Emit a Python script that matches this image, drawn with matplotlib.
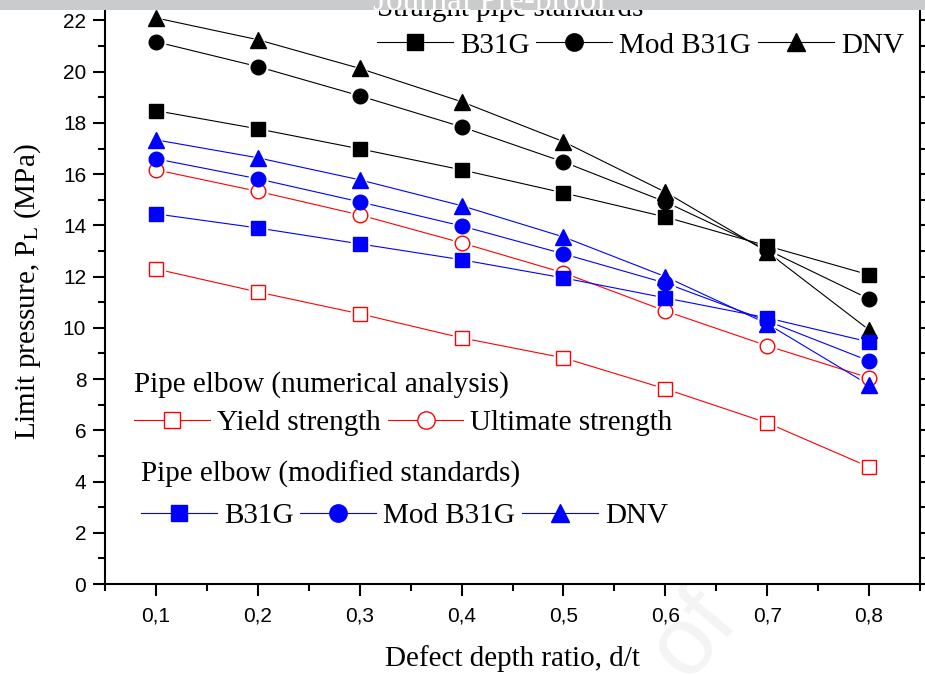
import numpy as np
import matplotlib
matplotlib.use('Agg')
import matplotlib.pyplot as plt
from matplotlib.lines import Line2D

plt.rcParams['mathtext.fontset'] = 'stix'

######################## data ##############################

depthRatio = [0.1, 0.2, 0.3, 0.4, 0.5, 0.6, 0.7, 0.8]
xtickLabels = ['0,1', '0,2', '0,3', '0,4', '0,5', '0,6', '0,7', '0,8']

# straight pipe standards
straightB31G = [18.48, 17.77, 16.99, 16.17, 15.27, 14.33, 13.2, 12.07]
straightModB31G = [21.17, 20.2, 19.06, 17.85, 16.48, 14.92, 13.05, 11.13]
straightDNV = [22.1, 21.25, 20.13, 18.83, 17.27, 15.3, 12.97, 9.92]

# pipe elbow, numerical analysis
elbowYield = [12.3, 11.4, 10.55, 9.61, 8.83, 7.62, 6.29, 4.57]
elbowUltimate = [16.17, 15.33, 14.41, 13.32, 12.15, 10.66, 9.3, 8.05]

# pipe elbow, modified standards
elbowB31G = [14.45, 13.9, 13.28, 12.66, 11.95, 11.17, 10.39, 9.45]
elbowModB31G = [16.6, 15.82, 14.92, 13.98, 12.89, 11.75, 10.27, 8.71]
elbowDNV = [17.34, 16.64, 15.78, 14.77, 13.55, 12.0, 10.16, 7.77]

######################## figure ##############################

serif = 'Liberation Serif'
sans = 'Liberation Sans'

fig = plt.figure(figsize=(9.25, 6.75), dpi=100)
ax = fig.add_axes([105 / 925, 91 / 675, 815 / 925, 584 / 675])

# (values, color, marker, size, filled)
seriesList = [
    (straightB31G, 'black', 's', 9.5, True),
    (straightModB31G, 'black', 'o', 10.5, True),
    (straightDNV, 'black', '^', 11, True),
    (elbowYield, 'red', 's', 10, False),
    (elbowUltimate, 'red', 'o', 10.5, False),
    (elbowB31G, 'blue', 's', 9.5, True),
    (elbowModB31G, 'blue', 'o', 10.5, True),
    (elbowDNV, 'blue', '^', 11, True),
]

lw = 0.8
# lines first
for vals, c, m, s, f in seriesList:
    ax.plot(depthRatio, vals, '-', color=c, lw=lw, zorder=2)
# white halo so the lines stop short of the symbols
for vals, c, m, s, f in seriesList:
    ax.plot(depthRatio, vals, ls='none', marker=m, ms=s + 3, mfc='white',
            mec='white', zorder=3)
for vals, c, m, s, f in seriesList:
    ax.plot(depthRatio, vals, ls='none', marker=m, ms=s,
            mfc=c if f else 'white', mec=c, mew=1.0, zorder=4)

ax.set_xlim(0.05, 0.85)
ax.set_ylim(0, 22.8)
ax.set_xticks(depthRatio)
ax.set_xticklabels(xtickLabels)
ax.set_xticks(np.arange(0.05, 0.86, 0.1), minor=True)
ax.set_yticks(np.arange(0, 23, 2))
ax.set_yticks(np.arange(1, 23, 2), minor=True)

for sp in ax.spines.values():
    sp.set_linewidth(1.5)
ax.tick_params(which='both', direction='out', width=1.5, right=True, top=True,
               labelsize=15)
ax.tick_params(which='major', length=8.5)
ax.tick_params(which='minor', length=5)
ax.tick_params(axis='x', pad=8)
ax.tick_params(axis='y', pad=5)
for lab in ax.get_xticklabels() + ax.get_yticklabels():
    lab.set_fontfamily(sans)

ax.set_xlabel('Defect depth ratio, d/t', fontsize=21, family=serif, labelpad=14)
ax.set_ylabel('Limit pressure, P$_\\mathrm{L}$ (MPa)', fontsize=21,
              family=serif, labelpad=14)

######################## legends ##############################

def handle(c, m, s, f):
    return Line2D([], [], color=c, lw=lw, marker=m, ms=s + 2,
                  mfc=c if f else 'white', mec=c, mew=1.0)

legKw = dict(frameon=False, prop={'family': serif, 'size': 21},
             handlelength=2.6, handletextpad=0.24, columnspacing=0.24,
             borderpad=0, borderaxespad=0, alignment='left',
             title_fontproperties={'family': serif, 'size': 21})

hB = [handle(*sr[1:]) for sr in seriesList[0:3]]
hR = [handle(*sr[1:]) for sr in seriesList[3:5]]
hU = [handle(*sr[1:]) for sr in seriesList[5:8]]

leg1 = ax.legend(hB, ['B31G', 'Mod B31G', 'DNV'], ncol=3, loc='upper left',
                 bbox_to_anchor=(272 / 815, 1.0 + 4 / 584),
                 title='Straight pipe standards', labelspacing=0.35, **legKw)
ax.add_artist(leg1)

leg2 = ax.legend(hR, ['Yield strength', 'Ultimate strength'], ncol=2,
                 loc='upper left', bbox_to_anchor=(29 / 815, 1.0 - 371 / 584),
                 title='Pipe elbow (numerical analysis)', labelspacing=0.4,
                 **legKw)
ax.add_artist(leg2)

leg3 = ax.legend(hU, ['B31G', 'Mod B31G', 'DNV'], ncol=3, loc='upper left',
                 bbox_to_anchor=(36 / 815, 1.0 - 461 / 584),
                 title='Pipe elbow (modified standards)', labelspacing=0.5,
                 **legKw)

######################## banner ##############################

bax = fig.add_axes([0, 1 - 10 / 675, 1, 10 / 675], zorder=10)
bax.set_facecolor('#cacbcd')
bax.set_xticks([])
bax.set_yticks([])
for sp in bax.spines.values():
    sp.set_visible(False)
bax.text(0.53, 0.9, 'Journal Pre-proof', color='white', family=serif,
         fontsize=24, ha='center', va='center', transform=bax.transAxes,
         clip_on=True)

fig.text(0.75, 0.06, 'of', color='#f4f4f4', family=sans, fontsize=70,
         rotation=50, ha='center', va='center', zorder=-1)

fig.savefig('out.png', dpi=100)
